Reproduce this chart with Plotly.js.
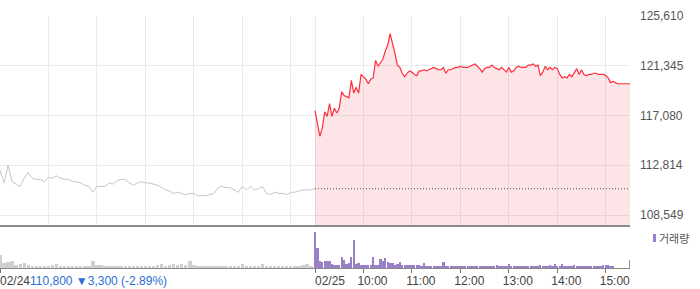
<!DOCTYPE html>
<html><head><meta charset="utf-8">
<script src="https://cdn.plot.ly/plotly-3.0.1.min.js"></script>
<style>html,body{margin:0;padding:0;background:#fff}#chart{width:700px;height:289px}</style>
</head><body><div id="chart"></div>
<script>
// 02/24 prices, every 5 minutes from 09:00 to 15:30
const day1Price = [112400,111300,112800,111400,111200,111000,111700,112200,111700,111600,
  111600,111400,111800,111700,111900,111700,111600,111600,111400,111400,
  111300,111100,111000,110500,111000,111000,111000,111300,111200,111500,
  111600,111600,111300,111100,111300,111400,111300,111300,111200,111100,
  110900,110700,110600,110400,110500,110400,110300,110400,110400,110200,
  110200,110200,110300,110400,110900,111000,110900,110900,110700,110500,
  111000,110700,111000,110700,110800,111000,110400,110300,110500,110400,
  110400,110300,110500,110500,110600,110700,110700,110700,110800];
// 02/25 prices, every 3 minutes from 09:00 to 15:30
const day2Price = [117500,116400,115300,116000,117400,117000,118100,117000,117700,117300,
  117700,119100,118800,118700,118600,120100,119000,119500,119000,120600,
  120400,120200,119800,120200,120300,121800,121300,121600,121900,122600,
  123100,124100,123300,122400,121400,121200,120700,120400,120700,120900,
  120800,120600,120500,120900,120900,121000,120900,121000,121100,121200,
  121100,121000,121000,121200,120700,121000,121000,121100,121200,121200,
  121300,121200,121200,121200,121300,121400,121500,121300,121100,120800,
  121100,121200,121200,121400,121200,121100,121000,121200,121000,120800,
  121200,120800,120900,121200,121300,121200,121200,121200,121400,121400,
  121500,121300,121400,120500,120800,121300,121000,121200,121000,121200,
  121100,120600,120300,120400,120300,120600,120400,120700,121100,120600,
  121000,120600,120500,120600,120600,120700,120700,120600,120600,120600,
  120500,120300,119900,120000,119900,119800,119800,119800,119800,119800,119800];
// volumes (thousand shares)
const day1Volume = [130,50,60,70,30,40,50,30,20,20,20,20,20,30,40,20,20,20,20,20,
  20,20,20,70,30,30,20,20,20,20,20,20,20,20,20,20,20,20,20,30,
  40,20,30,40,30,40,30,70,30,20,20,20,20,20,20,20,20,20,20,20,
  40,20,20,20,20,40,20,20,20,20,20,20,20,20,20,30,40,20];
const day2Volume = [360,200,70,60,70,70,70,40,30,30,30,110,80,40,50,110,280,40,50,30,
  30,30,30,30,110,30,30,90,70,100,60,50,50,30,40,60,30,30,30,30,
  30,30,30,30,20,50,20,20,20,20,20,20,20,60,20,20,20,20,20,20,
  20,20,20,20,20,20,20,20,20,20,20,20,20,20,20,30,20,20,20,20,
  40,20,20,20,20,20,20,20,20,20,20,20,20,30,20,20,20,30,20,40,
  20,20,40,20,20,20,20,30,20,20,20,20,20,20,20,20,20,20,20,30,
  30,30,20,20,0,0,0,0,0,0,80];
const prevClose = 110800;
const yTickVals = [108549, 112814, 117080, 121345, 125610];
const yTickText = ['108,549', '112,814', '117,080', '121,345', '125,610'];
const hourTickVals = [450, 510, 570, 630, 690, 750];
const hourTickText = ['10:00', '11:00', '12:00', '13:00', '14:00', '15:00'];
const day1Label = '02/24';
const day2Label = '02/25';
const changeText = '110,800 ▼3,300 (-2.89%)';
const volumeLabel = '거래량';

const STEP1 = 5, STEP2 = 3, DAY = 390;
const x1 = day1Price.map((_, i) => i * STEP1);
const x2 = day2Price.map((_, i) => DAY + i * STEP2);
const xv1 = day1Volume.map((_, i) => i * STEP1);
const xv2 = day2Volume.map((_, i) => DAY + i * STEP2);
const gridVals = [0, 60, 120, 180, 240, 300, 360, 390, 450, 510, 570, 630, 690, 750];

const FONT = '"Liberation Sans", Arial, sans-serif';
const PW = 630, PH = 252, TOP = 16;
const vMax = Math.max(...day2Volume);

const traces = [
  {x: x1, y: day1Price, type: 'scatter', mode: 'lines', xaxis: 'x', yaxis: 'y',
   line: {color: '#c5c6cb', width: 1}, hoverinfo: 'skip'},
  {x: x2, y: day2Price, type: 'scatter', mode: 'lines', xaxis: 'x', yaxis: 'y',
   fill: 'tozeroy', fillcolor: 'rgba(240,40,60,0.12)',
   line: {color: '#ff2f3c', width: 1.2}, hoverinfo: 'skip'},
  {x: [DAY, 2 * DAY], y: [prevClose, prevClose], type: 'scatter', mode: 'lines',
   xaxis: 'x', yaxis: 'y', line: {color: '#555', width: 1, dash: '1px,2px'}, hoverinfo: 'skip'},
  {x: xv1, y: day1Volume, type: 'bar', xaxis: 'x2', yaxis: 'y2', width: 4.2,
   marker: {color: '#cfcfcf', line: {width: 0}}, hoverinfo: 'skip'},
  {x: xv2, y: day2Volume, type: 'bar', xaxis: 'x2', yaxis: 'y2', width: 2.8,
   marker: {color: '#9a80c6', line: {width: 0}}, hoverinfo: 'skip'}
];

const layout = {
  width: 700, height: 289,
  margin: {l: 0, r: 70, t: TOP, b: 21, pad: 0},
  paper_bgcolor: '#fff', plot_bgcolor: '#fff',
  showlegend: false, bargap: 0,
  font: {family: FONT, size: 12, color: '#444'},
  xaxis: {domain: [0, 1], range: [0, 2 * DAY], anchor: 'y', tickmode: 'array',
    tickvals: gridVals, showticklabels: false, ticks: '', showgrid: true,
    gridcolor: '#ebebeb', gridwidth: 1, zeroline: false, showline: true,
    linecolor: '#8a8a8a', linewidth: 2, fixedrange: true},
  yaxis: {domain: [43 / PH, 1], range: [107692, 125610], anchor: 'x', side: 'right',
    tickmode: 'array', tickvals: yTickVals, ticktext: yTickText, ticks: '',
    ticklabelstandoff: 9, tickfont: {family: FONT, size: 12, color: '#555'},
    showgrid: true, gridcolor: '#ebebeb', zeroline: false, showline: false, fixedrange: true},
  xaxis2: {domain: [0, 1], range: [0, 2 * DAY], anchor: 'y2', tickmode: 'array',
    tickvals: [0, DAY].concat(hourTickVals), ticktext: ['', ''].concat(hourTickText),
    ticks: 'outside', ticklen: 4, tickwidth: 1, tickcolor: '#777',
    ticklabelshift: 9, ticklabelstandoff: -2,
    tickfont: {family: FONT, size: 12, color: '#444'},
    showgrid: false, zeroline: false, showline: true, linecolor: '#8a8a8a', linewidth: 1,
    fixedrange: true},
  yaxis2: {domain: [0, 41 / PH], range: [0, vMax * 41 / 36], anchor: 'x2',
    showticklabels: false, ticks: '', showgrid: false, zeroline: false, showline: false,
    fixedrange: true},
  shapes: [
    {type: 'rect', xref: 'paper', yref: 'paper', x0: 653 / PW, x1: 656 / PW,
     y0: (268 - 242) / PH, y1: (268 - 234) / PH, fillcolor: '#9a80c6', line: {width: 0}}
  ],
  annotations: [
    {xref: 'paper', yref: 'paper', x: 0, y: 0, xanchor: 'left', yanchor: 'middle',
     yshift: -13, xshift: -1, showarrow: false, borderpad: 0,
     text: '<span style="color:#444">' + day1Label + '</span><span style="color:#2b6fd3">' + changeText + '</span>',
     font: {family: FONT, size: 12}},
    {xref: 'x2', yref: 'paper', x: DAY, y: 0, xanchor: 'left', yanchor: 'middle',
     yshift: -13, xshift: -1, showarrow: false, borderpad: 0, text: day2Label,
     font: {family: FONT, size: 12, color: '#444'}},
    {xref: 'paper', yref: 'paper', x: 658 / PW, y: (268 - 238) / PH, xanchor: 'left',
     yanchor: 'middle', showarrow: false, borderpad: 0, text: volumeLabel,
     font: {family: '"Noto Sans CJK KR", sans-serif', size: 11, color: '#555'}}
  ]
};

Plotly.newPlot('chart', traces, layout, {staticPlot: true, displayModeBar: false});
</script>
</body></html>
